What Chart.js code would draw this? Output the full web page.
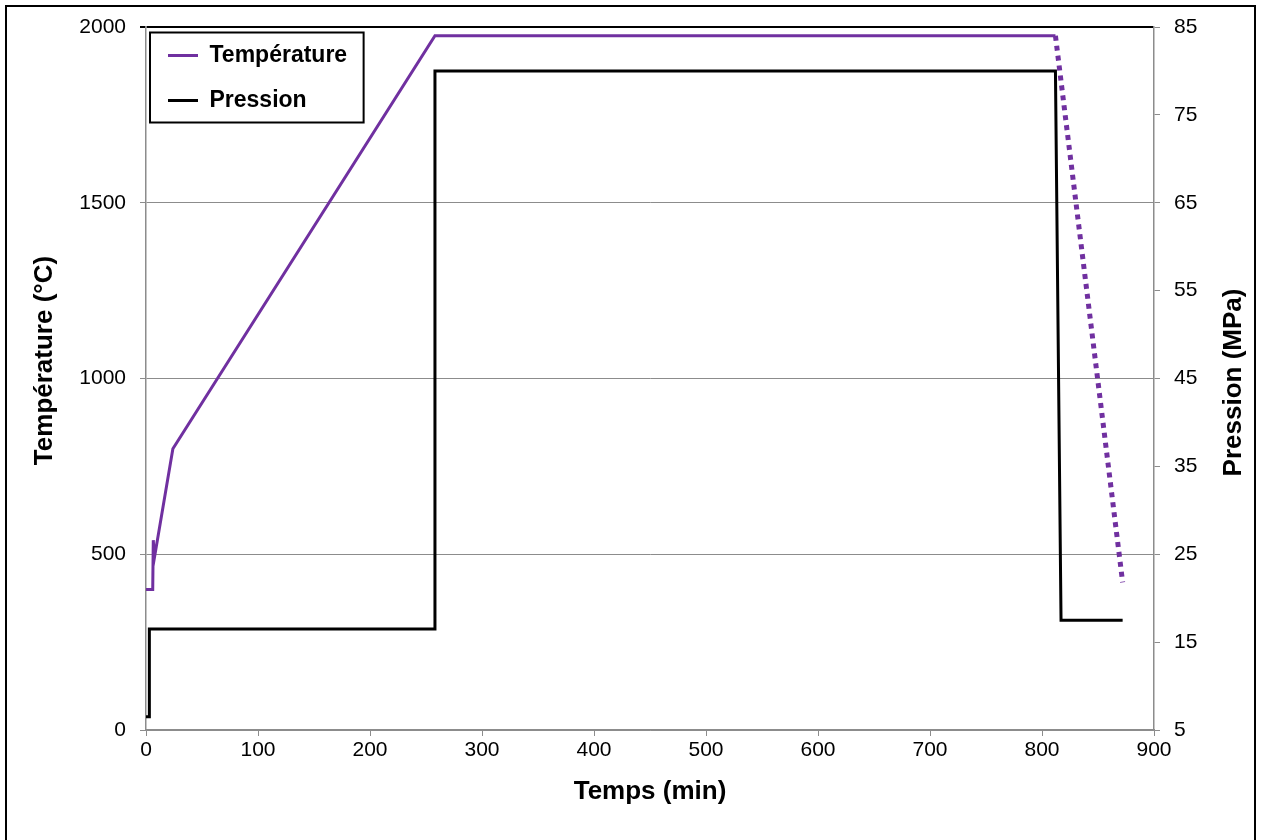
<!DOCTYPE html>
<html>
<head>
<meta charset="utf-8">
<script src="https://cdn.jsdelivr.net/npm/chart.js@4.4.0/dist/chart.umd.min.js"></script>
<style>
  html, body { margin: 0; padding: 0; background: #fff; }
  #wrap { width: 1261px; height: 840px; }
</style>
</head>
<body>
<div id="wrap"><canvas id="graph"></canvas></div>
<script>
// temps (min) / température (°C)
const tempX = [0, 6, 6.5, 7.5, 24, 258, 812, 872];
const tempY = [400, 400, 540, 490, 800, 1975, 1975, 420];
// temps (min) / pression (MPa)
const presX = [0, 3, 3, 258, 258, 812, 817, 872];
const presY = [6.5, 6.5, 16.5, 16.5, 80, 80, 17.5, 17.5];

const xTicks = { min: 0, max: 900, step: 100 };
const tempTicks = { min: 0, max: 2000, step: 500 };
const presTicks = { min: 5, max: 85, step: 10 };

const violet = '#7030A0';
const grille = '#8c8c8c';
const police = "'Liberation Sans', Arial, sans-serif";

function toPoints(xs, ys) {
    return xs.map((x, i) => ({ x: x, y: ys[i] }));
}

function titreVertical(c, txt, x, y) {
    c.save();
    c.translate(x, y);
    c.rotate(-Math.PI / 2);
    c.font = 'bold 26px ' + police;
    c.fillStyle = '#000';
    c.textAlign = 'center';
    c.textBaseline = 'middle';
    c.fillText(txt, 0, 0);
    c.restore();
}

// cadre exterieur + bordure de la legende + titres des axes verticaux
const decor = {
    id: 'decor',
    beforeDraw(chart) {
        const c = chart.ctx;
        c.save();
        c.fillStyle = '#fff';
        c.fillRect(0, 0, chart.width, chart.height);
        c.strokeStyle = '#000';
        c.lineWidth = 2;
        c.strokeRect(6, 6, chart.width - 12, chart.height + 20);
        c.restore();
    },
    afterDraw(chart) {
        const c = chart.ctx;
        const boxes = chart.legend.legendHitBoxes;
        if (boxes && boxes.length) {
            let l = Infinity, t = Infinity, r = -Infinity, b = -Infinity;
            boxes.forEach(h => {
                l = Math.min(l, h.left); t = Math.min(t, h.top);
                r = Math.max(r, h.left + h.width); b = Math.max(b, h.top + h.height);
            });
            c.save();
            c.strokeStyle = '#000';
            c.lineWidth = 2;
            c.strokeRect(l - 18, t - 11.5, r - l + 34.5, b - t + 22);
            c.restore();
        }
        const y = chart.scales.y;
        const mid = (y.top + y.bottom) / 2;
        titreVertical(c, 'Température (°C)', 45, mid - 18);
        titreVertical(c, 'Pression (MPa)', 1234, mid + 4);
    }
};

const ctx = document.getElementById('graph').getContext('2d');
const monGraph = new Chart(ctx, {
    type: 'line',
    data: {
        datasets: [{
            label: 'Température',
            data: toPoints(tempX, tempY),
            yAxisID: 'y',
            borderColor: violet,
            backgroundColor: violet,
            borderWidth: 3,
            pointRadius: 0,
            tension: 0,
            segment: {
                borderDash: c => c.p0DataIndex === tempX.length - 2 ? [5, 5] : undefined,
                borderWidth: c => c.p0DataIndex === tempX.length - 2 ? 5 : 3
            }
        }, {
            label: 'Pression',
            data: toPoints(presX, presY),
            yAxisID: 'y1',
            borderColor: '#000',
            backgroundColor: '#000',
            borderWidth: 3,
            pointRadius: 0,
            tension: 0
        }]
    },
    options: {
        responsive: true,
        maintainAspectRatio: false,
        animation: false,
        layout: { padding: { top: 27, left: 0, right: 0, bottom: 0 } },
        plugins: {
            tooltip: { enabled: false },
            legend: {
                position: 'chartArea',
                align: 'start',
                title: { display: true, text: '', font: { size: 10 }, padding: { top: 10, bottom: 0 } },
                labels: {
                    color: '#000',
                    font: { family: police, size: 23, weight: 'bold' },
                    boxWidth: 30,
                    boxHeight: 3,
                    padding: 22,
                    generateLabels: chart => Chart.defaults.plugins.legend.labels.generateLabels(chart)
                        .map(it => Object.assign(it, { lineWidth: 0, lineDash: [] }))
                }
            }
        },
        scales: {
            x: {
                type: 'linear',
                min: xTicks.min,
                max: xTicks.max,
                afterFit: s => { s.height = 110; },
                ticks: { stepSize: xTicks.step, color: '#000', padding: 2,
                         callback: v => String(v),
                         font: { family: police, size: 21 } },
                grid: { drawOnChartArea: false, color: grille, tickLength: 6 },
                border: { color: grille, width: 1.5 },
                title: { display: true, text: 'Temps (min)', color: '#000',
                         font: { family: police, size: 26, weight: 'bold' },
                         padding: { top: 0, bottom: 33 } }
            },
            y: {
                position: 'left',
                min: tempTicks.min,
                max: tempTicks.max,
                afterFit: s => { s.width = 146; },
                ticks: { stepSize: tempTicks.step, color: '#000', padding: 14,
                         callback: v => String(v),
                         font: { family: police, size: 21 } },
                grid: { color: c => c.tick && c.tick.value === tempTicks.max ? '#000' : grille,
                        lineWidth: c => c.tick && c.tick.value === tempTicks.max ? 2 : 1,
                        tickLength: 6 },
                border: { color: grille, width: 1.5 }
            },
            y1: {
                position: 'right',
                min: presTicks.min,
                max: presTicks.max,
                afterFit: s => { s.width = 107; },
                ticks: { stepSize: presTicks.step, color: '#000', padding: 14,
                         callback: v => String(v),
                         font: { family: police, size: 21 } },
                grid: { drawOnChartArea: false, color: grille, tickLength: 6 },
                border: { color: grille, width: 1.5 }
            }
        }
    },
    plugins: [decor]
});
</script>
</body>
</html>
